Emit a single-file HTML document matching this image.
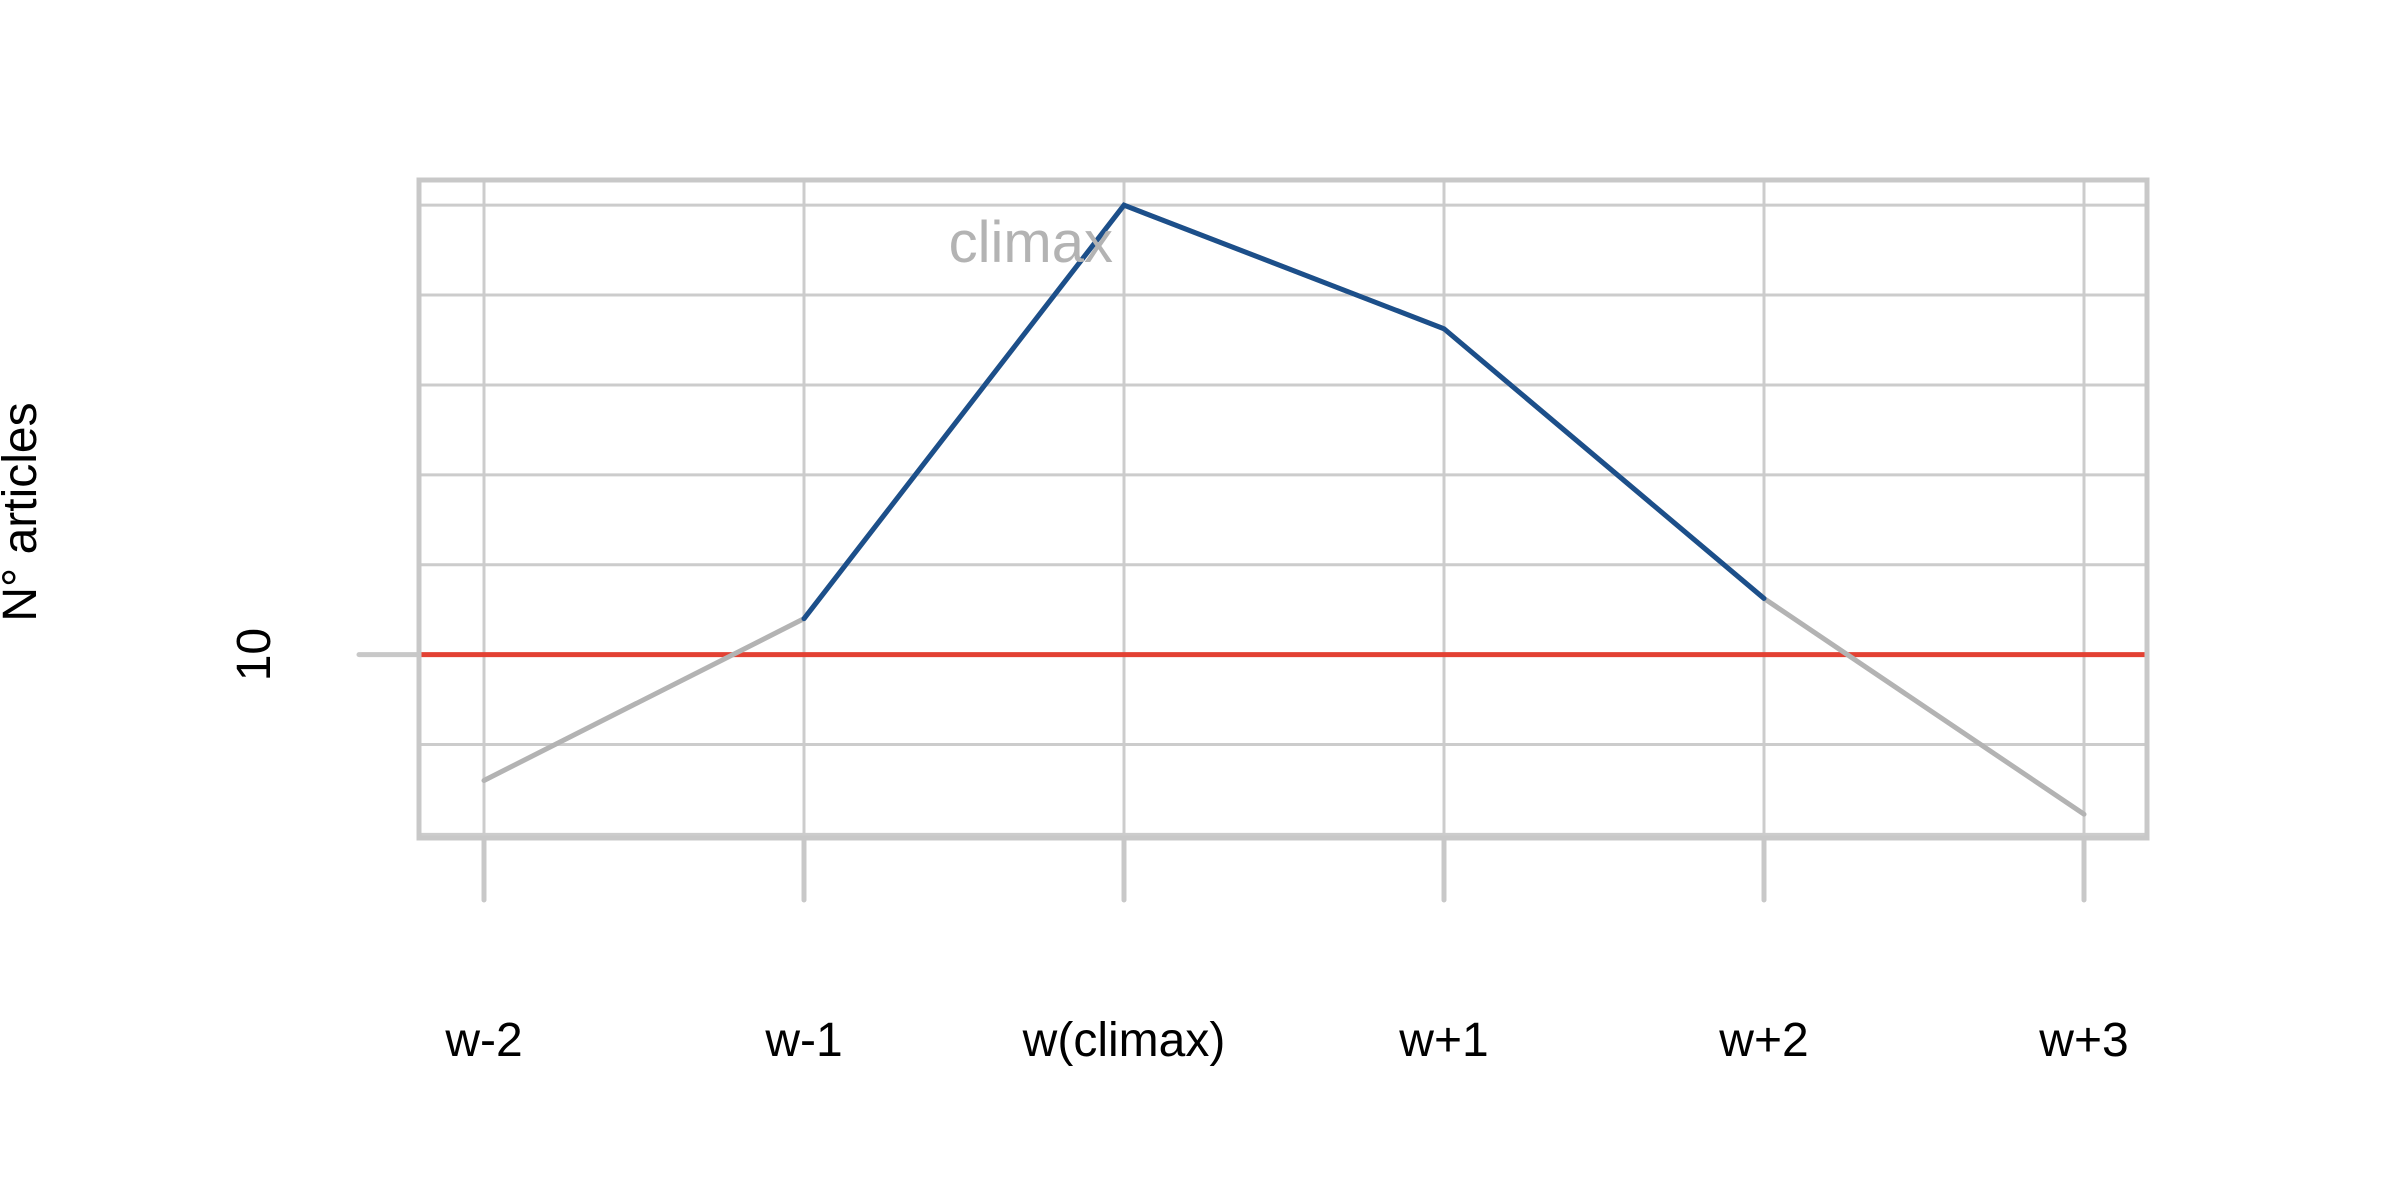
<!DOCTYPE html>
<html><head><meta charset="utf-8"><style>
html,body{margin:0;padding:0;background:#fff;}
svg{display:block;}
text{font-family:"Liberation Sans",Arial,sans-serif;}
</style></head>
<body>
<svg id="chart" width="2400" height="1200" viewBox="0 0 2400 1200" xmlns="http://www.w3.org/2000/svg">
<g id="grid"></g>
<g id="marks"></g>
<g id="axes"></g>
</svg>
<script>
const categories = ["w-2","w-1","w(climax)","w+1","w+2","w+3"];
const values = [7.2, 10.8, 20, 17.25, 11.25, 6.45];
const highlightFrom = 1;
const highlightTo = 4;
const threshold = 10;
const gridValues = [6, 8, 10, 12, 14, 16, 18, 20];
const yTickLabels = ["10"];
const yTickValues = [10];

const NS = "http://www.w3.org/2000/svg";
const box = {l:419, r:2147, t:180, b:838};
const yDom = [5.92, 20.56];
function xs(i){ return 484 + i*320; }
function ys(v){ return box.b - (v - yDom[0])/(yDom[1]-yDom[0])*(box.b-box.t); }
function mk(tag, attrs, parent){
  const e = document.createElementNS(NS, tag);
  for (const k in attrs) e.setAttribute(k, attrs[k]);
  parent.appendChild(e); return e;
}
const grid = document.getElementById('grid');
const marks = document.getElementById('marks');
const axes = document.getElementById('axes');

gridValues.forEach(v => {
  const l = mk('line', {x1:box.l, x2:box.r, y1:ys(v), y2:ys(v), stroke:'#cccccc', 'stroke-width':3}, grid);
  
  
});
categories.forEach((c, i) => {
  const l = mk('line', {x1:xs(i), x2:xs(i), y1:box.t, y2:box.b, stroke:'#cccccc', 'stroke-width':3}, grid);
  
  
});

// threshold line
const th = mk('line', {x1:box.l, x2:box.r, y1:ys(threshold), y2:ys(threshold), stroke:'#e34133', 'stroke-width':5}, marks);



// grey full line
const gp = values.map((v,i) => xs(i)+','+ys(v)).join(' ');
const grey = mk('polyline', {points:gp, fill:'none', stroke:'#b3b3b3', 'stroke-width':5, 'stroke-linejoin':'round', 'stroke-linecap':'round'}, marks);


// blue highlight
const bp = values.slice(highlightFrom, highlightTo+1).map((v,i) => xs(i+highlightFrom)+','+ys(v)).join(' ');
const blue = mk('polyline', {points:bp, fill:'none', stroke:'#1c4f8a', 'stroke-width':5, 'stroke-linejoin':'miter', 'stroke-linecap':'round'}, marks);



// climax label
const cl = mk('text', {x:1113, y:262, 'text-anchor':'end', 'font-size':58, fill:'#b3b3b3'}, marks);
cl.textContent = 'climax';



// box
const bx = mk('rect', {x:box.l, y:box.t, width:box.r-box.l, height:box.b-box.t, fill:'none', stroke:'#c8c8c8', 'stroke-width':5}, axes);



// x ticks + labels
categories.forEach((c, i) => {
  const t = mk('line', {x1:xs(i), x2:xs(i), y1:box.b, y2:900, stroke:'#c8c8c8', 'stroke-width':5, 'stroke-linecap':'round'}, axes);
  
  
  const tx = mk('text', {x:xs(i), y:1056, 'text-anchor':'middle', 'font-size':48, fill:'#000'}, axes);
  tx.textContent = c;
  
  
});
// y ticks
yTickValues.forEach((v, i) => {
  const t = mk('line', {x1:359, x2:box.l, y1:ys(v), y2:ys(v), stroke:'#c8c8c8', 'stroke-width':5, 'stroke-linecap':'round'}, axes);
  
  
  const tx = mk('text', {x:0, y:0, 'text-anchor':'middle', 'font-size':48, fill:'#000', transform:'translate(270,'+ys(v)+') rotate(-90)'}, axes);
  tx.textContent = yTickLabels[i];
  
  
});
const yt = mk('text', {x:0, y:0, 'text-anchor':'middle', 'font-size':48, fill:'#000', transform:'translate(36,512) rotate(-90)'}, axes);
yt.textContent = 'N° articles';


</script>
</body></html>
